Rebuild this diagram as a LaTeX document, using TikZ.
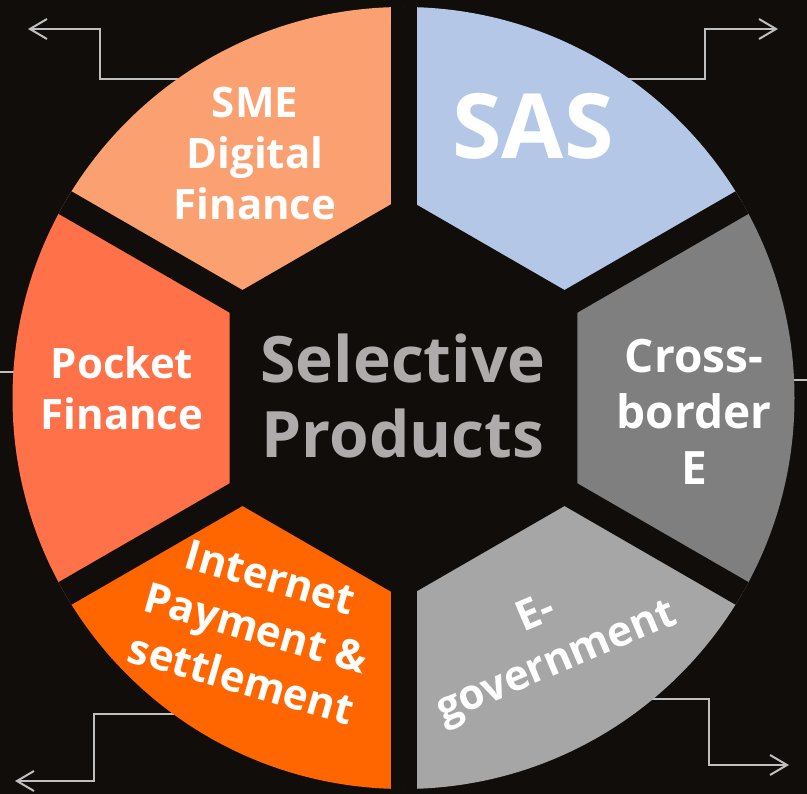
\documentclass[tikz,border=0pt]{standalone}
\usepackage{fontspec}
\setmainfont{Open Sans}
\usetikzlibrary{arrows.meta}

\definecolor{bgc}{HTML}{110D0B}
\definecolor{smec}{HTML}{FBA071}
\definecolor{sasc}{HTML}{B4C7E7}
\definecolor{crossc}{HTML}{7F7F7F}
\definecolor{egovc}{HTML}{A6A6A6}
\definecolor{inetc}{HTML}{FF6600}
\definecolor{pocketc}{HTML}{FF7149}
\definecolor{hubtext}{HTML}{AFABAB}
\definecolor{guidegray}{HTML}{BFBFBF}

\begin{document}
\begin{tikzpicture}[x=1pt,y=-1pt,
  seglabel/.style={text=white, align=center, inner sep=0pt},
  guide/.style={draw=guidegray, line width=2pt,
    -{Straight Barb[length=17pt,width=20pt]}},
  stub/.style={draw=guidegray, line width=2pt},
  gapband/.style={draw=bgc, line width=26pt}]

% dark backdrop
\fill[bgc] (0,0) rectangle (807,794);
\useasboundingbox (0,0) rectangle (807,794);

\coordinate (c) at (403.5,398);

% stepped guide arrows leaving the wheel
\coordinate (tlS) at (220,79);  \coordinate (tlT) at (28,29);
\coordinate (trS) at (590,79);  \coordinate (trT) at (778,29);
\coordinate (blS) at (220,714); \coordinate (blT) at (15,781);
\coordinate (brS) at (610,699); \coordinate (brT) at (789,765);
\draw[guide] (tlS) -- (100,79) |- (tlT);
\draw[guide] (trS) -- (705,79) |- (trT);
\draw[guide] (blS) -- (94,714) |- (blT);
\draw[guide] (brS) -- (709,699) |- (brT);

% short stubs at the sides
\coordinate (lS) at (0,372);   \coordinate (lE) at (40,372);
\coordinate (rS) at (807,380); \coordinate (rE) at (767,380);
\draw[stub] (lS) -- (lE);
\draw[stub] (rS) -- (rE);

% the wheel: six coloured sectors, hexagonal hub and radial gaps
\begin{scope}[shift={(c)}]
  \clip (0,0) circle[radius=391pt];
  \fill[crossc]  (0,0) -- (-30:600) -- (0:700)   -- (30:600)  -- cycle;
  \fill[sasc]    (0,0) -- (-90:600) -- (-60:700) -- (-30:600) -- cycle;
  \fill[smec]    (0,0) -- (-150:600) -- (-120:700) -- (-90:600) -- cycle;
  \fill[pocketc] (0,0) -- (150:600) -- (180:700) -- (210:600) -- cycle;
  \fill[inetc]   (0,0) -- (90:600)  -- (120:700) -- (150:600) -- cycle;
  \fill[egovc]   (0,0) -- (30:600)  -- (60:700)  -- (90:600)  -- cycle;
  \fill[bgc] (30:200.9) -- (90:200.9) -- (150:200.9) -- (210:200.9)
             -- (270:200.9) -- (330:200.9) -- cycle;
  \foreach \a in {30,90,...,330}
    \draw[gapband] (0,0) -- (\a:450);
\end{scope}

% labels
\node[seglabel, font=\fontsize{42}{51}\selectfont\bfseries] (sme) at (255,154)
  {SME\\Digital\\Finance};
\node[seglabel, font=\fontsize{90}{100}\selectfont\bfseries, anchor=base] (sas) at (533,159)
  {SAS};
\node[seglabel, font=\fontsize{42}{51}\selectfont\bfseries] (pocket) at (122,388)
  {Pocket\\Finance};
\node[seglabel, font=\fontsize{46}{56}\selectfont\bfseries] (cross) at (694,412)
  {Cross-\\border\\E};
\node[seglabel, font=\fontsize{42}{52}\selectfont\bfseries, rotate=23] (egov) at (547,640)
  {E-\\government};
\node[seglabel, font=\fontsize{42}{53}\selectfont\bfseries, rotate=-16] (inet) at (256,628)
  {Internet\\Payment \&\\settlement};
\node[seglabel, text=hubtext, font=\fontsize{64}{75}\selectfont\bfseries] (hub) at (403,396)
  {Selective\\Products};
\end{tikzpicture}
\end{document}
